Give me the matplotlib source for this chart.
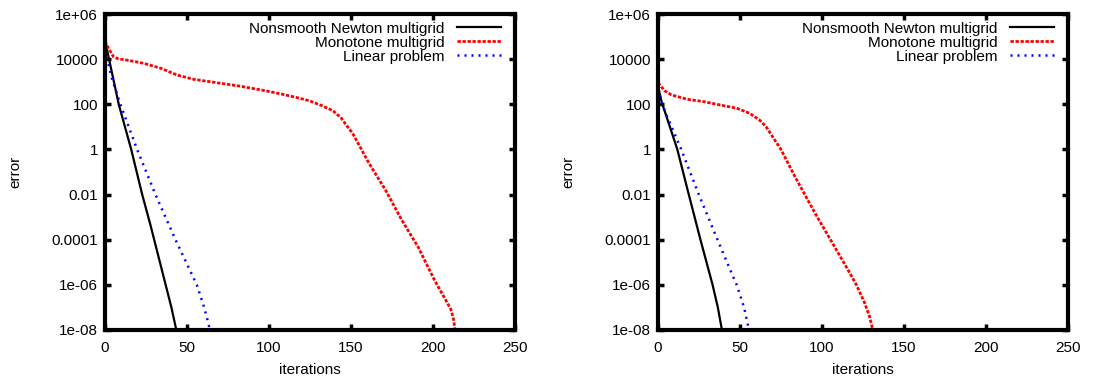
import matplotlib.pyplot as plt
import numpy as np

# log10(error), per solver, left and right panel
left_newton_it = [0, 1, 8.4, 16, 22.7, 27.7, 30, 37, 40.5, 43.5]
left_newton_lg = [5.0, 4.5, 2.0, 0.0, -2.0, -3.34, -4.0, -6.0, -7.0, -8.0]
left_mono_it = [0, 2, 5.2, 8, 13.5, 23.5, 34, 44, 54, 64.3, 82, 98, 108, 117,
                125, 132, 139, 144, 148, 151, 161, 171, 181, 191, 201, 208,
                211, 212.5, 213.5]
left_mono_lg = [4.8, 4.5, 4.11, 4.02, 3.96, 3.82, 3.6, 3.3, 3.11, 3.0, 2.81,
                2.6, 2.45, 2.3, 2.15, 1.95, 1.72, 1.4, 1.0, 0.72, -0.61, -1.79,
                -3.13, -4.33, -5.8, -6.7, -7.1, -7.5, -8.0]
left_lin_it = [0, 1.3, 4, 9.4, 19.6, 30.8, 43, 56, 60.5, 63, 64]
left_lin_lg = [4.7, 4.05, 3.2, 2.0, 0.0, -2.0, -4.0, -6.0, -7.0, -7.7, -8.0]

right_newton_it = [0, 2.2, 11.8, 18.8, 25.9, 33.3, 36.5, 39]
right_newton_lg = [2.8, 2.12, 0.0, -2.0, -4.0, -6.0, -7.0, -8.0]
right_mono_it = [0, 1.2, 4, 8.2, 18, 28, 38, 48, 56, 62, 66, 75, 83.5, 95.6,
                 107.6, 115.6, 121, 126, 129, 131]
right_mono_lg = [2.95, 2.86, 2.6, 2.42, 2.22, 2.12, 1.97, 1.83, 1.6, 1.3, 1.0,
                 0.0, -1.2, -2.8, -4.3, -5.3, -6.0, -6.8, -7.4, -8.0]
right_lin_it = [0, 3, 14.2, 24.9, 36.3, 44, 48, 52.5, 55.5]
right_lin_lg = [2.7, 1.9, 0.0, -2.0, -4.0, -5.33, -6.0, -7.0, -8.0]

labels = ["Nonsmooth Newton multigrid", "Monotone multigrid", "Linear problem"]
ytick_vals = [1e6, 1e4, 1e2, 1, 1e-2, 1e-4, 1e-6, 1e-8]
ytick_labels = ["1e+06", "10000", "100", "1", "0.01", "0.0001", "1e-06", "1e-08"]
xtick_vals = [0, 50, 100, 150, 200, 250]

plt.rcParams['font.family'] = ['Liberation Sans', 'DejaVu Sans']
plt.rcParams['font.size'] = 11

fig = plt.figure(figsize=(10.97, 3.81), dpi=100)
ax1 = fig.add_axes([0.0957, 0.134, 0.3737, 0.829])
ax2 = fig.add_axes([0.5998, 0.134, 0.3737, 0.829])

panels = [
    (ax1, (left_newton_it, left_newton_lg), (left_mono_it, left_mono_lg),
     (left_lin_it, left_lin_lg)),
    (ax2, (right_newton_it, right_newton_lg), (right_mono_it, right_mono_lg),
     (right_lin_it, right_lin_lg)),
]

for ax, newton, mono, lin in panels:
    ax.plot(newton[0], 10.0 ** np.array(newton[1]), color="black", lw=1.6,
            label=labels[0])
    ax.plot(mono[0], 10.0 ** np.array(mono[1]), color="#ff0000", lw=2.0,
            ls=(0, (1.2, 0.6)), label=labels[1])
    ax.plot(lin[0], 10.0 ** np.array(lin[1]), color="#0000ff", lw=1.8,
            ls=(0, (0.8, 2.0)), label=labels[2])

    ax.set_yscale("log")
    ax.set_xlim(0, 250)
    ax.set_ylim(1e-8, 1e6)
    ax.set_yticks(ytick_vals)
    ax.set_yticklabels(ytick_labels)
    ax.set_xticks(xtick_vals)
    ax.minorticks_off()
    ax.tick_params(direction="in", length=4, width=2.5, top=True, right=True,
                   pad=5, labelsize=11)
    ax.tick_params(axis="x", pad=8)
    for sp in ax.spines.values():
        sp.set_linewidth(3)
    ax.set_xlabel("iterations", labelpad=6)
    ax.set_ylabel("error", labelpad=21)
    ax.legend(loc="upper right", frameon=False, markerfirst=False,
              alignment="right", handlelength=2.9, labelspacing=0.0,
              borderaxespad=0.1, handletextpad=0.8, fontsize=11,
              bbox_to_anchor=(0.985, 1.0))

fig.savefig("out.png", dpi=100)
